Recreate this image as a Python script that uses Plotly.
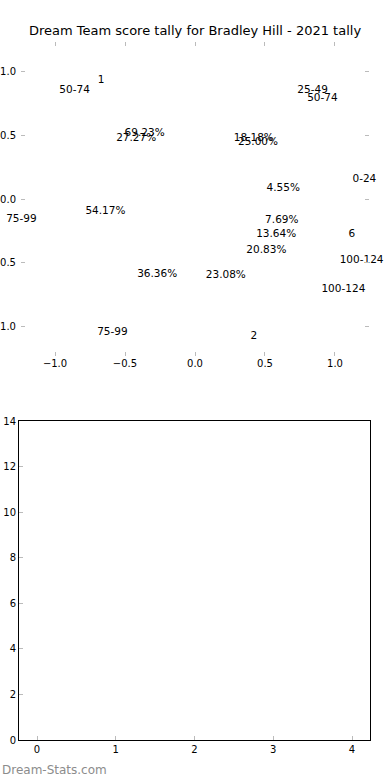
import plotly.graph_objects as go

# Labels of the top panel (text only) and their positions in data units
label_text = ["1", "50-74", "25-49", "50-74", "69.23%", "27.27%", "18.18%", "25.00%",
              "0-24", "4.55%", "54.17%", "75-99", "7.69%", "13.64%", "6", "20.83%",
              "100-124", "36.36%", "23.08%", "100-124", "75-99", "2"]
label_x = [-0.67, -0.86, 0.84, 0.91, -0.36, -0.42, 0.42, 0.45,
           1.21, 0.63, -0.64, -1.24, 0.62, 0.58, 1.12, 0.51,
           1.19, -0.27, 0.22, 1.06, -0.59, 0.42]
label_y = [0.93, 0.85, 0.85, 0.79, 0.51, 0.47, 0.47, 0.44,
           0.15, 0.08, -0.10, -0.16, -0.17, -0.28, -0.28, -0.40,
           -0.48, -0.59, -0.60, -0.71, -1.04, -1.07]

top_ticks = [-1.0, -0.5, 0.0, 0.5, 1.0]
bottom_xticks = [0, 1, 2, 3, 4]
bottom_yticks = [0, 2, 4, 6, 8, 10, 12, 14]

font_family = "DejaVu Sans"
tick_col = "#bbbbbb"

fig = go.Figure()
fig.add_trace(go.Scatter(x=label_x, y=label_y, text=label_text, mode="text",
                         textposition="middle center", cliponaxis=False,
                         textfont=dict(family=font_family, size=10.5, color="black"),
                         xaxis="x", yaxis="y", hoverinfo="skip", showlegend=False))
fig.add_trace(go.Scatter(x=[], y=[], mode="markers", xaxis="x2", yaxis="y2", showlegend=False))

common = dict(ticks="inside", ticklen=4, tickwidth=1, tickcolor=tick_col,
              showgrid=False, zeroline=False, automargin=False,
              tickfont=dict(family=font_family, size=10, color="black"))

fig.update_layout(
    width=390, height=780,
    margin=dict(l=0, r=0, t=0, b=0),
    paper_bgcolor="white", plot_bgcolor="white",
    showlegend=False,
    title=dict(text="Dream Team score tally for Bradley Hill - 2021 tally",
               x=0.5, xanchor="center", y=1 - 30 / 780, yanchor="middle",
               font=dict(family=font_family, size=13, color="black")),
    xaxis=dict(domain=[21 / 390, 369 / 390], anchor="y", range=[-1.243, 1.243],
               tickvals=top_ticks, tickformat=".1f", showline=False, mirror="ticks", **common),
    yaxis=dict(domain=[1 - 356 / 780, 1 - 42 / 780], anchor="x", range=[-1.227, 1.227],
               tickvals=top_ticks, tickformat=".1f", showline=False, mirror="ticks",
               ticklabelstandoff=4, **common),
    xaxis2=dict(domain=[19 / 390, 370 / 390], anchor="y2", range=[-0.2286, 4.2286],
                tickvals=bottom_xticks, showline=True, linecolor="black", linewidth=1,
                mirror=True, **common),
    yaxis2=dict(domain=[1 - 740 / 780, 1 - 421 / 780], anchor="x2", range=[0, 14],
                tickvals=bottom_yticks, showline=True, linecolor="black", linewidth=1,
                mirror=True, **common),
    annotations=[dict(text="Dream-Stats.com", xref="paper", yref="paper",
                      x=0, y=1 - 770 / 780, xanchor="left", yanchor="middle",
                      showarrow=False, font=dict(family=font_family, size=12, color="#8c8c8c"))],
)

fig.write_html("out.html", config={"displayModeBar": False},
               post_script="document.body.style.margin='0';document.body.style.overflow='hidden';")
